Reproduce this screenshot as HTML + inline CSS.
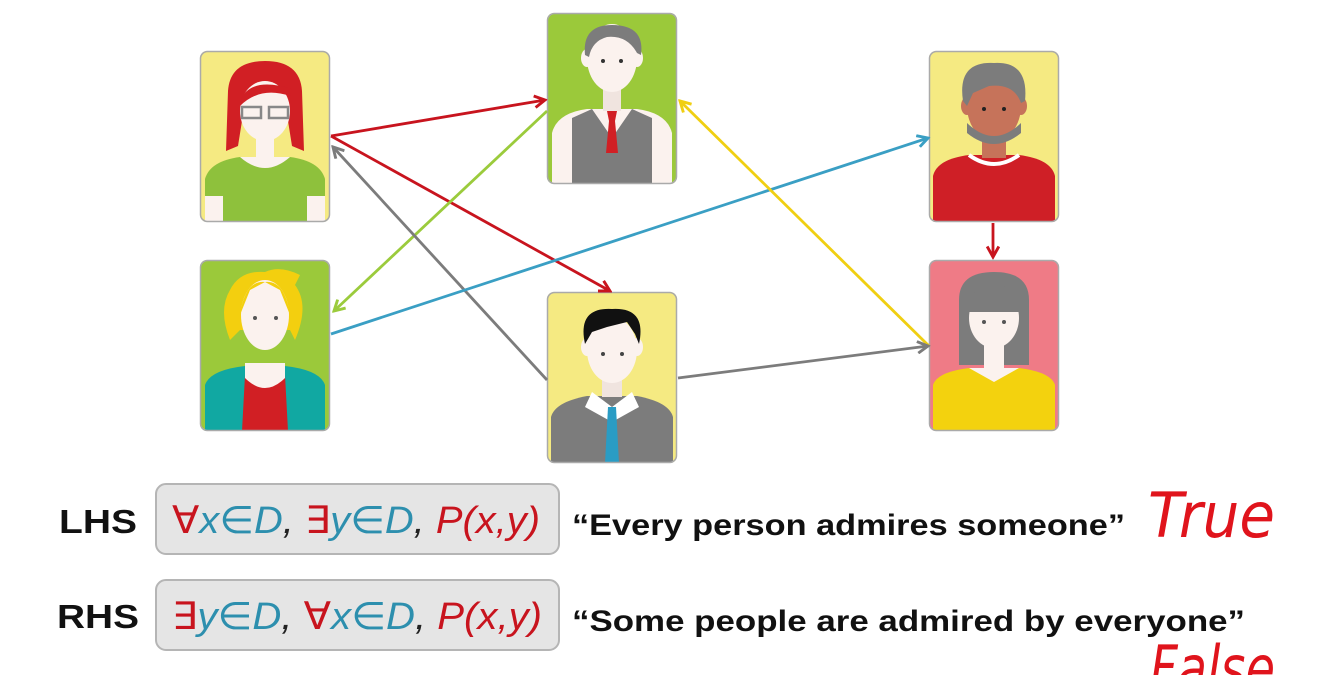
<!DOCTYPE html>
<html><head><meta charset="utf-8"><style>
html,body{margin:0;padding:0;background:#fff;width:1329px;height:675px;overflow:hidden}
</style></head><body>
<svg width="1329" height="675" viewBox="0 0 1329 675" xmlns="http://www.w3.org/2000/svg">
<defs>
<marker id="mr" viewBox="0 0 12 12" refX="10" refY="6" markerWidth="14" markerHeight="14" markerUnits="userSpaceOnUse" orient="auto"><path d="M1,1 L10,6 L1,11" fill="none" stroke="#c8141e" stroke-width="2.5"/></marker>
<marker id="mg" viewBox="0 0 12 12" refX="10" refY="6" markerWidth="14" markerHeight="14" markerUnits="userSpaceOnUse" orient="auto"><path d="M1,1 L10,6 L1,11" fill="none" stroke="#9bcb3c" stroke-width="2.5"/></marker>
<marker id="mgr" viewBox="0 0 12 12" refX="10" refY="6" markerWidth="14" markerHeight="14" markerUnits="userSpaceOnUse" orient="auto"><path d="M1,1 L10,6 L1,11" fill="none" stroke="#7c7c7c" stroke-width="2.5"/></marker>
<marker id="mb" viewBox="0 0 12 12" refX="10" refY="6" markerWidth="14" markerHeight="14" markerUnits="userSpaceOnUse" orient="auto"><path d="M1,1 L10,6 L1,11" fill="none" stroke="#3a9fc4" stroke-width="2.5"/></marker>
<marker id="my" viewBox="0 0 12 12" refX="10" refY="6" markerWidth="14" markerHeight="14" markerUnits="userSpaceOnUse" orient="auto"><path d="M1,1 L10,6 L1,11" fill="none" stroke="#f0cf12" stroke-width="2.5"/></marker>
<clipPath id="cc"><rect x="0" y="0" width="130" height="171" rx="7"/></clipPath>
</defs>

<g transform="translate(200,51)">
<g clip-path="url(#cc)">
<rect width="130" height="171" fill="#f5ea82"/>
<path d="M5,171 L5,128 Q10,110 40,106 L90,106 Q120,110 125,128 L125,171Z" fill="#8ec13c"/>
<rect x="5" y="145" width="18" height="26" fill="#fbf2ee"/><rect x="107" y="145" width="18" height="26" fill="#fbf2ee"/>
<path d="M40,106 Q65,128 90,106Z" fill="#fbf2ee"/>
<path d="M28,40 Q30,10 65,10 Q100,10 102,40 L104,100 L92,95 L88,70 L42,70 L38,95 L26,100Z" fill="#d11f24"/>
<rect x="56" y="78" width="18" height="30" fill="#fbf2ee"/>
<ellipse cx="65" cy="60" rx="25" ry="30" fill="#fbf2ee"/>
<path d="M40,50 Q50,25 92,38 L90,45 Q60,35 40,55Z" fill="#d11f24"/>
<rect x="42" y="56" width="19" height="11" fill="none" stroke="#888" stroke-width="2.5"/>
<rect x="69" y="56" width="19" height="11" fill="none" stroke="#888" stroke-width="2.5"/>
</g>
<rect x="0.5" y="0.5" width="129" height="170" rx="7" fill="none" stroke="#aaa" stroke-width="1.5"/>
</g>

<g transform="translate(547,13)">
<g clip-path="url(#cc)">
<rect width="130" height="171" fill="#9bc93a"/>
<path d="M5,171 L5,120 Q10,100 40,96 L90,96 Q120,100 125,120 L125,171Z" fill="#fbf2ee"/>
<path d="M25,171 L25,105 L45,96 L65,125 L85,96 L105,105 L105,171Z" fill="#7c7c7c"/>
<path d="M60,98 L70,98 L68,108 L71,140 L59,140 L62,108Z" fill="#d11f24"/>
<rect x="56" y="72" width="18" height="26" fill="#f0e4df"/>
<ellipse cx="40" cy="45" rx="6" ry="9" fill="#fbf2ee"/><ellipse cx="90" cy="45" rx="6" ry="9" fill="#fbf2ee"/>
<ellipse cx="65" cy="45" rx="25" ry="34" fill="#fbf2ee"/>
<path d="M38,42 Q35,12 65,12 Q98,12 94,42 L90,40 Q80,22 60,24 Q45,28 42,44Z" fill="#7c7c7c"/>
<circle cx="56" cy="48" r="2" fill="#333"/><circle cx="74" cy="48" r="2" fill="#333"/>
</g>
<rect x="0.5" y="0.5" width="129" height="170" rx="7" fill="none" stroke="#aaa" stroke-width="1.5"/>
</g>

<g transform="translate(929,51)">
<g clip-path="url(#cc)">
<rect width="130" height="171" fill="#f5ea82"/>
<path d="M4,171 L4,125 Q8,108 40,104 L90,104 Q122,108 126,125 L126,171Z" fill="#cf1f26"/>
<path d="M40,104 Q65,122 90,104" fill="none" stroke="#fff" stroke-width="4"/>
<rect x="53" y="75" width="24" height="32" fill="#c6735a"/>
<ellipse cx="38" cy="55" rx="6" ry="9" fill="#c6735a"/><ellipse cx="92" cy="55" rx="6" ry="9" fill="#c6735a"/>
<ellipse cx="65" cy="55" rx="27" ry="35" fill="#c6735a"/>
<path d="M38,72 Q65,98 92,72 L92,82 Q65,104 38,82Z" fill="#7c7c7c"/>
<path d="M34,50 Q28,10 65,12 Q100,10 96,50 L92,52 Q85,32 60,35 L44,42 L38,55Z" fill="#7c7c7c"/>
<circle cx="55" cy="58" r="2" fill="#222"/><circle cx="75" cy="58" r="2" fill="#222"/>
</g>
<rect x="0.5" y="0.5" width="129" height="170" rx="7" fill="none" stroke="#aaa" stroke-width="1.5"/>
</g>

<g transform="translate(200,260)">
<g clip-path="url(#cc)">
<rect width="130" height="171" fill="#9bc93a"/>
<path d="M5,171 L5,125 Q10,110 45,106 L85,106 Q120,110 125,125 L125,171Z" fill="#11a8a2"/>
<path d="M45,115 Q65,135 85,115 L88,171 L42,171Z" fill="#d11f24"/>
<path d="M45,103 L45,118 Q65,138 85,118 L85,103Z" fill="#fbf2ee"/>
<path d="M30,30 Q40,10 65,12 Q80,5 100,15 L95,25 Q110,45 95,80 L90,70 L40,70 L30,80 Q18,50 30,30Z" fill="#f3cf0f"/>
<ellipse cx="65" cy="55" rx="24" ry="35" fill="#fbf2ee"/>
<path d="M40,55 Q45,20 65,22 L50,30 Z" fill="#f3cf0f"/>
<path d="M90,55 Q85,20 65,22 L80,30Z" fill="#f3cf0f"/>
<circle cx="55" cy="58" r="2" fill="#555"/><circle cx="76" cy="58" r="2" fill="#555"/>
</g>
<rect x="0.5" y="0.5" width="129" height="170" rx="7" fill="none" stroke="#aaa" stroke-width="1.5"/>
</g>

<g transform="translate(547,292)">
<g clip-path="url(#cc)">
<rect width="130" height="171" fill="#f5ea82"/>
<path d="M4,171 L4,125 Q8,110 40,104 L90,104 Q122,110 126,125 L126,171Z" fill="#7c7c7c"/>
<path d="M45,100 L65,115 L85,100 L92,115 L65,130 L38,115Z" fill="#fff"/>
<path d="M61,115 L69,115 L72,171 L58,171Z" fill="#2a9cc4"/>
<rect x="55" y="80" width="20" height="25" fill="#f0e4df"/>
<ellipse cx="40" cy="55" rx="6" ry="9" fill="#fbf2ee"/><ellipse cx="90" cy="55" rx="6" ry="9" fill="#fbf2ee"/>
<ellipse cx="65" cy="58" rx="25" ry="33" fill="#fbf2ee"/>
<path d="M38,52 Q30,15 65,17 Q100,15 92,52 L88,42 L80,30 L60,35 L45,40Z" fill="#111"/>
<circle cx="56" cy="62" r="2" fill="#444"/><circle cx="75" cy="62" r="2" fill="#444"/>
</g>
<rect x="0.5" y="0.5" width="129" height="170" rx="7" fill="none" stroke="#aaa" stroke-width="1.5"/>
</g>

<g transform="translate(929,260)">
<g clip-path="url(#cc)">
<rect width="130" height="171" fill="#ef7b86"/>
<path d="M30,40 Q30,12 65,12 Q100,12 100,40 L100,105 L30,105Z" fill="#7c7c7c"/>
<path d="M4,171 L4,125 Q8,112 40,108 L90,108 Q122,112 126,125 L126,171Z" fill="#f3d20e"/>
<path d="M40,108 L65,122 L90,108Z" fill="#fbf2ee"/>
<rect x="55" y="82" width="20" height="28" fill="#fbf2ee"/>
<ellipse cx="65" cy="58" rx="25" ry="30" fill="#fbf2ee"/>
<path d="M40,52 Q40,25 65,25 Q90,25 90,52 Z" fill="#7c7c7c"/>
<circle cx="55" cy="62" r="2" fill="#555"/><circle cx="75" cy="62" r="2" fill="#555"/>
</g>
<rect x="0.5" y="0.5" width="129" height="170" rx="7" fill="none" stroke="#aaa" stroke-width="1.5"/>
</g>

<g fill="none" stroke-width="2.8">
<line x1="331" y1="136" x2="545" y2="100" stroke="#c8141e" marker-end="url(#mr)"/>
<line x1="331" y1="136" x2="610" y2="291" stroke="#c8141e" marker-end="url(#mr)"/>
<line x1="547" y1="111" x2="334" y2="311" stroke="#9bcb3c" marker-end="url(#mg)"/>
<line x1="547" y1="380" x2="333" y2="147" stroke="#7c7c7c" marker-end="url(#mgr)"/>
<line x1="331" y1="334" x2="928" y2="138" stroke="#3a9fc4" marker-end="url(#mb)"/>
<line x1="929" y1="346" x2="680" y2="101" stroke="#f0cf12" marker-end="url(#my)"/>
<line x1="678" y1="378" x2="928" y2="346" stroke="#7c7c7c" marker-end="url(#mgr)"/>
<line x1="993" y1="223" x2="993" y2="257" stroke="#c8141e" marker-end="url(#mr)"/>
</g>

<rect x="156" y="484" width="403" height="70" rx="10" fill="#e5e5e5" stroke="#b5b5b5" stroke-width="2"/>
<rect x="156" y="580" width="403" height="70" rx="10" fill="#e5e5e5" stroke="#b5b5b5" stroke-width="2"/>
<g font-family="Liberation Sans, sans-serif" font-weight="bold" font-size="33" fill="#111">
<text x="59" y="533" textLength="78" lengthAdjust="spacingAndGlyphs">LHS</text>
<text x="57" y="628" textLength="82" lengthAdjust="spacingAndGlyphs">RHS</text>
</g>
<g font-family="Liberation Sans, DejaVu Sans, sans-serif" font-style="italic" font-size="38">
<text x="172" y="533" textLength="368" lengthAdjust="spacingAndGlyphs"><tspan fill="#c8141e" font-style="normal">∀</tspan><tspan fill="#2d8fae">x∈D</tspan><tspan fill="#222">, </tspan><tspan fill="#c8141e" font-style="normal">∃</tspan><tspan fill="#2d8fae">y∈D</tspan><tspan fill="#222">, </tspan><tspan fill="#c8141e">P(x,y)</tspan></text>
<text x="172" y="629" textLength="370" lengthAdjust="spacingAndGlyphs"><tspan fill="#c8141e" font-style="normal">∃</tspan><tspan fill="#2d8fae">y∈D</tspan><tspan fill="#222">, </tspan><tspan fill="#c8141e" font-style="normal">∀</tspan><tspan fill="#2d8fae">x∈D</tspan><tspan fill="#222">, </tspan><tspan fill="#c8141e">P(x,y)</tspan></text>
</g>
<g font-family="Liberation Sans, sans-serif" font-weight="bold" font-size="30" fill="#111">
<text x="572" y="535" textLength="553" lengthAdjust="spacingAndGlyphs">“Every person admires someone”</text>
<text x="572" y="631" textLength="673" lengthAdjust="spacingAndGlyphs">“Some people are admired by everyone”</text>
</g>
<g font-family="DejaVu Sans, sans-serif" font-size="62" fill="#e0141c" font-weight="300" font-style="italic">
<text x="1148" y="537" textLength="127" lengthAdjust="spacingAndGlyphs">True</text>
<text x="1150" y="690" textLength="125" lengthAdjust="spacingAndGlyphs">False</text>
</g>
</svg>
</body></html>
